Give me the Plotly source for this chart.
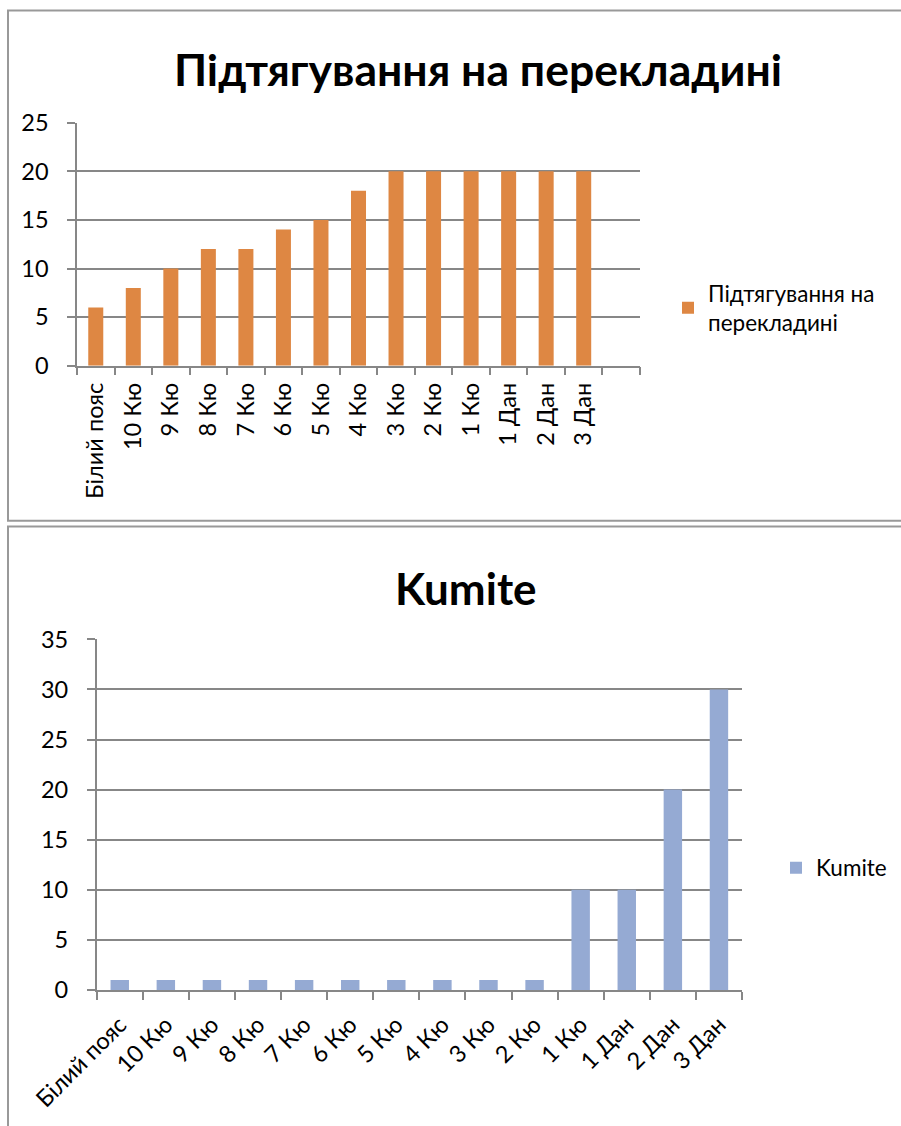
import plotly.graph_objects as go

# Belt ranks shared by both charts
belts = ["Білий пояс", "10 Кю", "9 Кю", "8 Кю", "7 Кю", "6 Кю", "5 Кю",
         "4 Кю", "3 Кю", "2 Кю", "1 Кю", "1 Дан", "2 Дан", "3 Дан"]

pullups = [6, 8, 10, 12, 12, 14, 15, 18, 20, 20, 20, 20, 20, 20]
kumite = [1, 1, 1, 1, 1, 1, 1, 1, 1, 1, 10, 10, 20, 30]

pullups_name = "Підтягування на перекладині"
kumite_name = "Kumite"

W, H = 901, 1126
FONT = "Lato"
GRAY = "#878787"
ORANGE = "#DE8743"
BLUE = "#95AAD3"

def px_x(x):
    return x / W

def px_y(y):
    return 1 - y / H

pos = list(range(len(belts)))

fig = go.Figure()

fig.add_trace(go.Bar(
    x=pos, y=pullups, name="Підтягування на<br>перекладині",
    marker=dict(color=ORANGE, line=dict(width=0)),
    width=0.4, xaxis="x", yaxis="y", legend="legend",
))
fig.add_trace(go.Bar(
    x=pos, y=kumite, name=kumite_name,
    marker=dict(color=BLUE, line=dict(width=0)),
    width=0.4, xaxis="x2", yaxis="y2", legend="legend2",
))

tickfont = dict(family=FONT, size=23.5, color="black")

def xaxis(domain, anchor, n_slots, angle, standoff):
    return dict(
        domain=domain, anchor=anchor,
        range=[-0.5, n_slots - 0.5],
        tickmode="array", tickvals=pos, ticktext=belts,
        ticks="", tickangle=angle, tickfont=tickfont,
        showgrid=False, zeroline=False,
        showline=True, linecolor=GRAY, linewidth=1.5,
        minor=dict(tickmode="array",
                   tickvals=[i - 0.5 for i in range(n_slots + 1)],
                   ticks="outside", ticklen=8, tickcolor=GRAY, tickwidth=1.5,
                   showgrid=False),
        ticklabelstandoff=standoff, automargin=False, fixedrange=True,
    )

def yaxis(domain, anchor, top):
    return dict(
        domain=domain, anchor=anchor,
        range=[0, top], tickmode="linear", tick0=0, dtick=5,
        ticks="outside", ticklen=8, tickcolor=GRAY, tickwidth=1.5,
        tickfont=tickfont,
        showgrid=True, gridcolor=GRAY, gridwidth=1.5,
        zeroline=False, showline=True, linecolor=GRAY, linewidth=1.5,
        ticklabelstandoff=14, automargin=False, fixedrange=True,
    )

legend_font = dict(family=FONT, size=22.5, color="black")

fig.update_layout(
    width=W, height=H,
    margin=dict(l=0, r=0, t=0, b=0, autoexpand=False),
    paper_bgcolor="white", plot_bgcolor="white",
    bargap=0.6,
    xaxis=xaxis([px_x(77), px_x(640)], "y", len(belts) + 1, -90, 6),
    yaxis=yaxis([px_y(365.7), px_y(122.7)], "x", 25),
    xaxis2=xaxis([px_x(96.7), px_x(742)], "y2", len(belts), -45, 10),
    yaxis2=yaxis([px_y(990), px_y(639.3)], "x2", 35),
    legend=dict(x=px_x(668), y=px_y(308), xanchor="left", yanchor="middle",
                font=legend_font, bgcolor="rgba(0,0,0,0)", itemwidth=30),
    legend2=dict(x=px_x(776), y=px_y(868), xanchor="left", yanchor="middle",
                 font=legend_font, bgcolor="rgba(0,0,0,0)", itemwidth=30),
    showlegend=True,
)

# Chart titles
fig.add_annotation(text="<b>" + pullups_name + "</b>", x=px_x(478), y=px_y(68),
                   xref="paper", yref="paper", showarrow=False,
                   xanchor="center", yanchor="middle",
                   font=dict(family=FONT, size=44.5, color="black"))
fig.add_annotation(text="<b>" + kumite_name + "</b>", x=px_x(466), y=px_y(588),
                   xref="paper", yref="paper", showarrow=False,
                   xanchor="center", yanchor="middle",
                   font=dict(family=FONT, size=44, color="black"))

# Chart frames
for y0, y1 in [(10.5, 520.7), (526.5, 1140)]:
    fig.add_shape(type="rect", xref="paper", yref="paper",
                  x0=px_x(8), x1=px_x(915), y0=px_y(y1), y1=px_y(y0),
                  line=dict(color="#999999", width=2), layer="below")

fig.write_html("out.html")
